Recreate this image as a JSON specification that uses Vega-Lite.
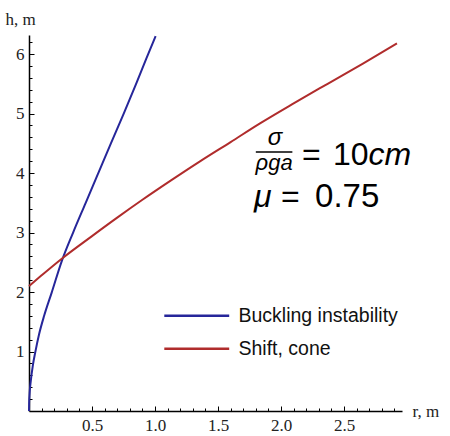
{
  "$schema": "https://vega.github.io/schema/vega-lite/v6.json",
  "width": 373,
  "height": 376,
  "autosize": {"type": "none"},
  "padding": {"left": 29, "top": 35, "right": 48, "bottom": 25},
  "background": "white",
  "config": {"view": {"stroke": null}, "axis": {"labelOverlap": false}},
  "resolve": {"axis": {"x": "independent", "y": "independent"}},
  "datasets": {
    "curves": [
      {"r": 0, "h": 0, "series": "Buckling instability"},
      {"r": 0.001, "h": 0.13, "series": "Buckling instability"},
      {"r": 0.005, "h": 0.3, "series": "Buckling instability"},
      {"r": 0.015, "h": 0.52, "series": "Buckling instability"},
      {"r": 0.03, "h": 0.76, "series": "Buckling instability"},
      {"r": 0.05, "h": 0.99, "series": "Buckling instability"},
      {"r": 0.08, "h": 1.29, "series": "Buckling instability"},
      {"r": 0.12, "h": 1.6, "series": "Buckling instability"},
      {"r": 0.18, "h": 1.99, "series": "Buckling instability"},
      {"r": 0.26, "h": 2.52, "series": "Buckling instability"},
      {"r": 0.35, "h": 3.0, "series": "Buckling instability"},
      {"r": 0.45, "h": 3.5, "series": "Buckling instability"},
      {"r": 0.55, "h": 4.0, "series": "Buckling instability"},
      {"r": 0.65, "h": 4.5, "series": "Buckling instability"},
      {"r": 0.75, "h": 4.99, "series": "Buckling instability"},
      {"r": 0.85, "h": 5.5, "series": "Buckling instability"},
      {"r": 0.93, "h": 5.92, "series": "Buckling instability"},
      {"r": 1.005, "h": 6.3, "series": "Buckling instability"},
      {"r": 0, "h": 2.1, "series": "Shift, cone"},
      {"r": 0.1, "h": 2.28, "series": "Shift, cone"},
      {"r": 0.26, "h": 2.56, "series": "Shift, cone"},
      {"r": 0.5, "h": 2.94, "series": "Shift, cone"},
      {"r": 0.7, "h": 3.25, "series": "Shift, cone"},
      {"r": 0.9, "h": 3.55, "series": "Shift, cone"},
      {"r": 1.13, "h": 3.88, "series": "Shift, cone"},
      {"r": 1.36, "h": 4.2, "series": "Shift, cone"},
      {"r": 1.6, "h": 4.52, "series": "Shift, cone"},
      {"r": 1.83, "h": 4.83, "series": "Shift, cone"},
      {"r": 2.1, "h": 5.17, "series": "Shift, cone"},
      {"r": 2.37, "h": 5.5, "series": "Shift, cone"},
      {"r": 2.65, "h": 5.84, "series": "Shift, cone"},
      {"r": 2.92, "h": 6.18, "series": "Shift, cone"}
    ]
  },
  "layer": [
    {
      "data": {"name": "curves"},
      "mark": {"type": "line", "strokeWidth": 2, "interpolate": "monotone"},
      "encoding": {
        "x": {
          "field": "r",
          "type": "quantitative",
          "scale": {"domain": [0, 2.96], "nice": false, "zero": false},
          "axis": {
            "orient": "bottom",
            "title": "r, m",
            "titleAngle": 0,
            "titleX": 383,
            "titleY": 5,
            "titleAlign": "left",
            "titleBaseline": "alphabetic",
            "titleFont": "Liberation Serif",
            "titleFontSize": 17,
            "titleFontWeight": "normal",
            "titleColor": "#222",
            "values": [0.5, 1.0, 1.5, 2.0, 2.5],
            "format": ".1f",
            "tickSize": -5,
            "tickColor": "#000",
            "tickWidth": 1,
            "domainColor": "#000",
            "domainWidth": 1.5,
            "labelFont": "Liberation Serif",
            "labelFontSize": 17,
            "labelColor": "#222",
            "labelPadding": 11,
            "labelFlush": false,
            "labelOverlap": false,
            "grid": false
          }
        },
        "y": {
          "field": "h",
          "type": "quantitative",
          "scale": {"domain": [0, 6.32], "nice": false, "zero": false},
          "axis": {
            "orient": "left",
            "title": "h, m",
            "titleAngle": 0,
            "titleX": -24,
            "titleY": -11,
            "titleAlign": "left",
            "titleBaseline": "alphabetic",
            "titleFont": "Liberation Serif",
            "titleFontSize": 17,
            "titleFontWeight": "normal",
            "titleColor": "#222",
            "values": [1, 2, 3, 4, 5, 6],
            "format": "d",
            "tickSize": -5,
            "tickColor": "#000",
            "tickWidth": 1,
            "domainColor": "#000",
            "domainWidth": 1.5,
            "labelFont": "Liberation Serif",
            "labelFontSize": 17,
            "labelColor": "#222",
            "labelPadding": 10,
            "labelFlush": false,
            "labelOverlap": false,
            "grid": false
          }
        },
        "color": {
          "field": "series",
          "type": "nominal",
          "scale": {"domain": ["Buckling instability", "Shift, cone"], "range": ["#26269a", "#b02c2c"]},
          "legend": {
            "title": null,
            "orient": "none",
            "legendX": 158,
            "legendY": 271,
            "symbolType": "M-6,0H6",
            "symbolSize": 117,
            "symbolStrokeWidth": 2.5,
            "symbolFillColor": "transparent",
            "labelFont": "Liberation Sans",
            "labelFontSize": 19.5,
            "labelColor": "#111",
            "labelOffset": 32,
            "rowPadding": 12
          }
        }
      }
    },
    {
      "data": {"values": [{}]},
      "mark": {"type": "rule", "strokeWidth": 1.5, "color": "#000"},
      "encoding": {
        "x": {
          "datum": 1.80,
          "type": "quantitative",
          "scale": {"domain": [0, 2.96], "nice": false, "zero": false},
          "axis": {
            "orient": "bottom",
            "title": null,
            "values": [0.1, 0.2, 0.3, 0.4, 0.6, 0.7, 0.8, 0.9, 1.1, 1.2, 1.3, 1.4, 1.6, 1.7, 1.8, 1.9, 2.1, 2.2, 2.3, 2.4, 2.6, 2.7, 2.8, 2.9],
            "labels": false,
            "tickSize": -3,
            "tickColor": "#000",
            "tickWidth": 1,
            "domain": false,
            "grid": false
          }
        },
        "x2": {"datum": 2.09},
        "y": {
          "datum": 4.353,
          "type": "quantitative",
          "scale": {"domain": [0, 6.32], "nice": false, "zero": false},
          "axis": {
            "orient": "left",
            "title": null,
            "values": [0.2, 0.4, 0.6, 0.8, 1.2, 1.4, 1.6, 1.8, 2.2, 2.4, 2.6, 2.8, 3.2, 3.4, 3.6, 3.8, 4.2, 4.4, 4.6, 4.8, 5.2, 5.4, 5.6, 5.8, 6.2],
            "labels": false,
            "tickSize": -3,
            "tickColor": "#000",
            "tickWidth": 1,
            "domain": false,
            "grid": false
          }
        }
      }
    },
    {
      "data": {"values": [{}]},
      "mark": {"type": "text", "text": "σ", "font": "Liberation Sans", "fontStyle": "italic", "fontSize": 24, "align": "center", "baseline": "alphabetic", "color": "#000"},
      "encoding": {"x": {"datum": 1.952, "type": "quantitative", "axis": null}, "y": {"datum": 4.47, "type": "quantitative", "axis": null}}
    },
    {
      "data": {"values": [{}]},
      "mark": {"type": "text", "text": "ρga", "font": "Liberation Sans", "fontStyle": "italic", "fontSize": 22, "align": "center", "baseline": "alphabetic", "color": "#000"},
      "encoding": {"x": {"datum": 1.945, "type": "quantitative", "axis": null}, "y": {"datum": 4.05, "type": "quantitative", "axis": null}}
    },
    {
      "data": {"values": [{}]},
      "mark": {"type": "text", "text": "=", "font": "Liberation Sans", "fontSize": 32, "align": "left", "baseline": "alphabetic", "color": "#000"},
      "encoding": {"x": {"datum": 2.167, "type": "quantitative", "axis": null}, "y": {"datum": 4.134, "type": "quantitative", "axis": null}}
    },
    {
      "data": {"values": [{}]},
      "mark": {"type": "text", "text": "10", "font": "Liberation Sans", "fontSize": 32, "align": "left", "baseline": "alphabetic", "color": "#000"},
      "encoding": {"x": {"datum": 2.413, "type": "quantitative", "axis": null}, "y": {"datum": 4.134, "type": "quantitative", "axis": null}}
    },
    {
      "data": {"values": [{}]},
      "mark": {"type": "text", "text": "cm", "font": "Liberation Sans", "fontStyle": "italic", "fontSize": 32, "align": "left", "baseline": "alphabetic", "color": "#000"},
      "encoding": {"x": {"datum": 2.695, "type": "quantitative", "axis": null}, "y": {"datum": 4.134, "type": "quantitative", "axis": null}}
    },
    {
      "data": {"values": [{}]},
      "mark": {"type": "text", "text": "μ", "font": "Liberation Sans", "fontStyle": "italic", "fontSize": 32, "align": "left", "baseline": "alphabetic", "color": "#000"},
      "encoding": {"x": {"datum": 1.786, "type": "quantitative", "axis": null}, "y": {"datum": 3.43, "type": "quantitative", "axis": null}}
    },
    {
      "data": {"values": [{}]},
      "mark": {"type": "text", "text": "=", "font": "Liberation Sans", "fontSize": 32, "align": "left", "baseline": "alphabetic", "color": "#000"},
      "encoding": {"x": {"datum": 2.0, "type": "quantitative", "axis": null}, "y": {"datum": 3.43, "type": "quantitative", "axis": null}}
    },
    {
      "data": {"values": [{}]},
      "mark": {"type": "text", "text": "0.75", "font": "Liberation Sans", "fontSize": 33, "align": "left", "baseline": "alphabetic", "color": "#000"},
      "encoding": {"x": {"datum": 2.27, "type": "quantitative", "axis": null}, "y": {"datum": 3.43, "type": "quantitative", "axis": null}}
    }
  ]
}
